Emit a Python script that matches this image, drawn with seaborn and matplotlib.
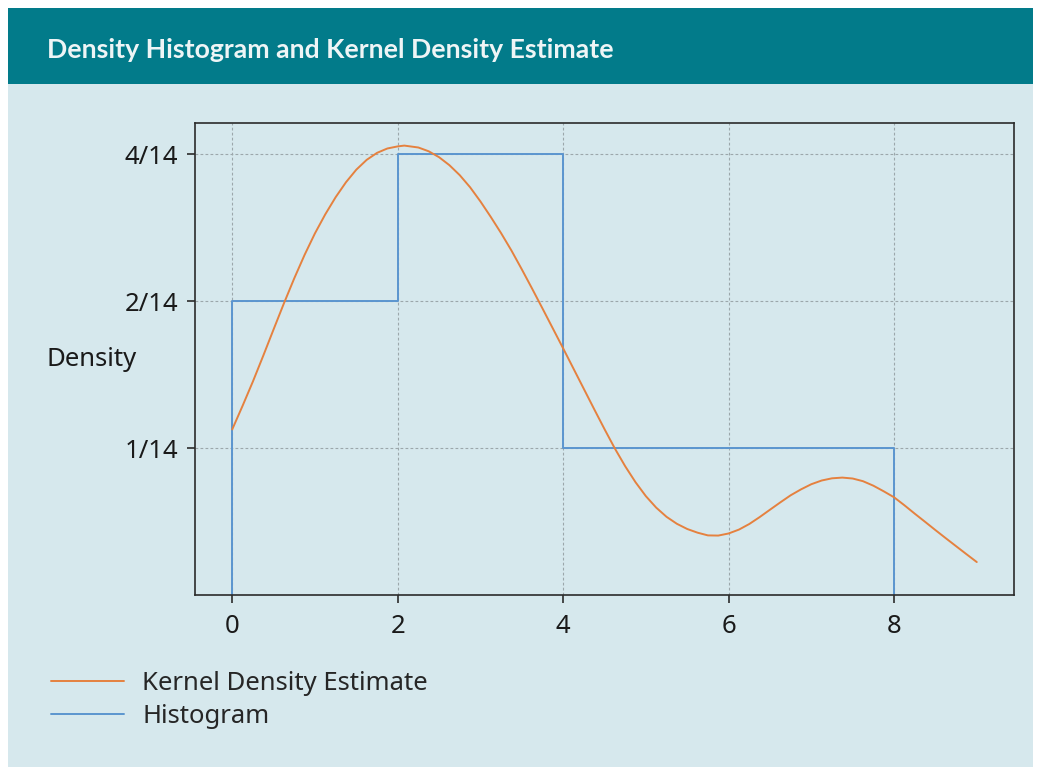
import matplotlib
matplotlib.use("Agg")
import matplotlib.pyplot as plt
from matplotlib.patches import Rectangle
from matplotlib.lines import Line2D
import seaborn as sns
import pandas as pd

# Kernel density estimate, sampled along x
kde_x = [0.000, 0.125, 0.250, 0.375, 0.500, 0.625, 0.750, 0.875, 1.000, 1.125,
         1.250, 1.375, 1.500, 1.625, 1.750, 1.875, 2.000, 2.080, 2.250, 2.375,
         2.500, 2.625, 2.750, 2.875, 3.000, 3.125, 3.250, 3.375, 3.500, 3.625,
         3.750, 3.875, 4.000, 4.125, 4.250, 4.375, 4.500, 4.625, 4.750, 4.875,
         5.000, 5.125, 5.250, 5.375, 5.500, 5.625, 5.750, 5.875, 6.000, 6.125,
         6.250, 6.375, 6.500, 6.625, 6.750, 6.875, 7.000, 7.125, 7.250, 7.375,
         7.500, 7.625, 7.750, 7.875, 8.000, 8.125, 8.250, 8.375, 8.500, 8.625,
         8.750, 8.875, 9.000]
kde_y = [0.07800, 0.08717, 0.09779, 0.11042, 0.12504, 0.14140, 0.15911, 0.17774,
         0.19668, 0.21519, 0.23324, 0.25031, 0.26561, 0.27816, 0.28748, 0.29350,
         0.29641, 0.29753, 0.29488, 0.28965, 0.28171, 0.27130, 0.25882, 0.24449,
         0.22866, 0.21257, 0.19687, 0.18138, 0.16601, 0.15152, 0.13804, 0.12563,
         0.11433, 0.10391, 0.09444, 0.08583, 0.07811, 0.07129, 0.06556, 0.06080,
         0.05693, 0.05393, 0.05164, 0.04997, 0.04876, 0.04792, 0.04731, 0.04727,
         0.04774, 0.04862, 0.04992, 0.05157, 0.05340, 0.05528, 0.05716, 0.05878,
         0.06023, 0.06129, 0.06193, 0.06214, 0.06187, 0.06109, 0.05981, 0.05825,
         0.05663, 0.05454, 0.05242, 0.05044, 0.04851, 0.04669, 0.04496, 0.04330,
         0.04172]

# Histogram: bin edges and density per bin
bin_edges = [0, 2, 4, 8]
hist_density = [2 / 14, 4 / 14, 1 / 14]

# Y tick positions and their labels
y_ticks = [1 / 14, 2 / 14, 4 / 14]
y_tick_labels = ["1/14", "2/14", "4/14"]
x_ticks = [0, 2, 4, 6, 8]

BG = "#d6e8ed"
BANNER = "#027b8a"
ORANGE = "#e5813f"
BLUE = "#5b95cf"
FS = 18.5

sns.set_style("ticks")
plt.rcParams["font.family"] = ["Noto Sans", "DejaVu Sans"]

W, H = 1041, 767
fig = plt.figure(figsize=(W / 100, H / 100), dpi=100, facecolor="white")


def fx(px):
    return px / W


def fy(py):
    return 1 - py / H


# Panel background and title banner
fig.patches.append(Rectangle((fx(8), 0), fx(1033) - fx(8), fy(8), transform=fig.transFigure,
                             facecolor=BG, edgecolor="none", zorder=-2))
fig.patches.append(Rectangle((fx(8), fy(84)), fx(1033) - fx(8), fy(8) - fy(84),
                             transform=fig.transFigure, facecolor=BANNER, edgecolor="none", zorder=-1))
fig.text(fx(47), fy(58), "Density Histogram and Kernel Density Estimate", color="#eef5f6",
         fontsize=19.2, fontweight="bold", family=["Lato", "DejaVu Sans"],
         ha="left", va="baseline")

ax = fig.add_axes([fx(195), fy(595), fx(1014) - fx(195), fy(123) - fy(595)])
ax.set_facecolor("none")

# Histogram outline: up from the baseline, across each bin, back down at the end
step_x, step_y = [bin_edges[0]], [0.0]
for i, h in enumerate(hist_density):
    step_x += [bin_edges[i], bin_edges[i + 1]]
    step_y += [h, h]
step_x.append(bin_edges[-1])
step_y.append(0.0)
hist_df = pd.DataFrame({"x": step_x, "y": step_y})
kde_df = pd.DataFrame({"x": kde_x, "y": kde_y})

sns.lineplot(data=hist_df, x="x", y="y", ax=ax, color=BLUE, linewidth=1.4,
             estimator=None, sort=False, zorder=2)
sns.lineplot(data=kde_df, x="x", y="y", ax=ax, color=ORANGE, linewidth=1.4,
             estimator=None, sort=False, zorder=3)

ax.set_yscale("log", base=2)
ax.set_xlim(-0.45, 9.45)
ax.set_ylim(1 / 28, 0.331)
ax.set_xticks(x_ticks)
ax.set_xticklabels([str(t) for t in x_ticks])
ax.set_yticks(y_ticks)
ax.set_yticklabels(y_tick_labels)
ax.yaxis.set_minor_locator(matplotlib.ticker.NullLocator())

ax.grid(True, which="major", color="#9ca7ab", linestyle=(0, (2.5, 2)), linewidth=0.8)
for s in ax.spines.values():
    s.set_color("#2b2b2b")
    s.set_linewidth(1.2)
ax.tick_params(axis="both", direction="out", length=6, width=1.2, color="#2b2b2b",
               labelsize=FS, labelcolor="#1a1a1a")
ax.tick_params(axis="x", pad=8)
ax.tick_params(axis="y", pad=6)

ax.set_xlabel("")
ax.set_ylabel("Density", rotation=0, fontsize=FS, color="#1a1a1a", ha="center", va="center")
ax.yaxis.set_label_coords(-0.126, 0.50)

handles = [Line2D([], [], color=ORANGE, linewidth=1.4), Line2D([], [], color=BLUE, linewidth=1.4)]
fig.legend(handles, ["Kernel Density Estimate", "Histogram"], loc="upper left",
           bbox_to_anchor=(fx(46), fy(666)), frameon=False, fontsize=FS,
           handlelength=2.85, handletextpad=0.7, labelspacing=0.3, borderpad=0.2,
           borderaxespad=0)

fig.savefig("out.png", dpi=100, facecolor="white")
